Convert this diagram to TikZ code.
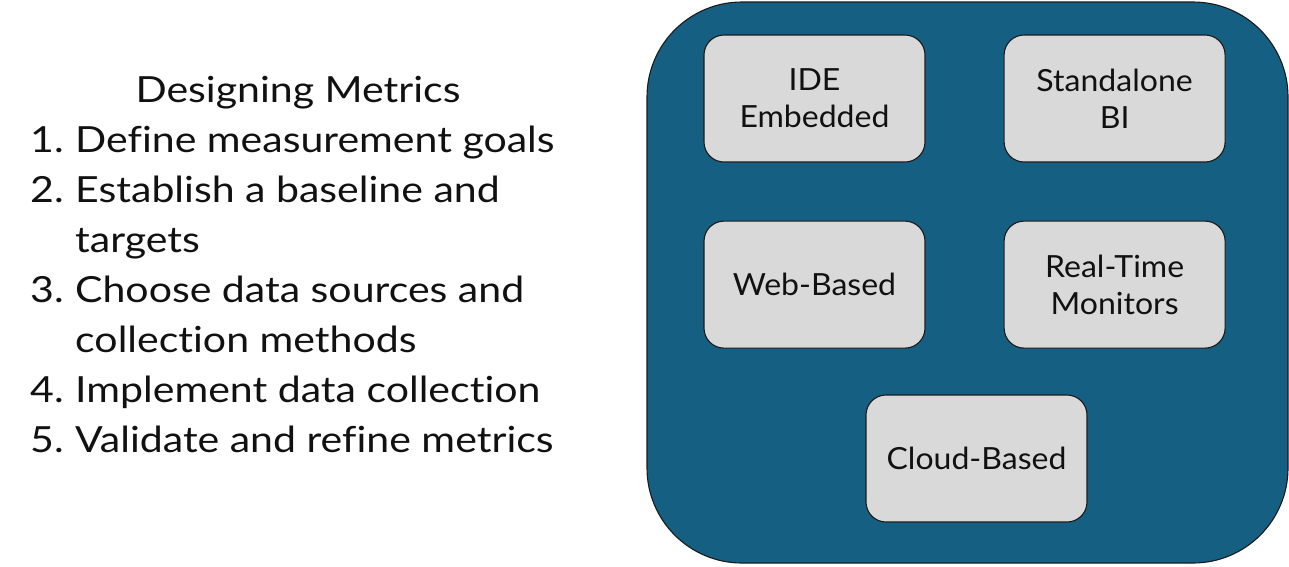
\documentclass[tikz,border=0pt]{standalone}
\usepackage{fontspec}
\setmainfont{Lato}[FakeStretch = 1.14, Ligatures = {NoCommon, NoContextual}]
\newfontfamily\kindfont{Lato}[FakeStretch = 1.05, Ligatures = {NoCommon, NoContextual}]
\usepackage{xcolor}
\usetikzlibrary{positioning}
\definecolor{PanelBlue}{HTML}{156082}
\definecolor{BoxGrey}{HTML}{D9D9D9}
\definecolor{EdgeDark}{HTML}{1A1A1A}
\definecolor{TextDark}{HTML}{111111}

\begin{document}
\begin{tikzpicture}[
        x = 1pt, y = -1pt,
        kindbox/.style = {
            shape          = rectangle,
            rounded corners = 20pt,
            draw           = EdgeDark,
            line width     = 1.1pt,
            fill           = BoxGrey,
            minimum width  = 221pt,
            minimum height = 127pt,
            align          = center,
            text           = TextDark,
            font           = \kindfont\fontsize{30.5}{37}\selectfont,
        },
    ]
    \useasboundingbox (0, 0) rectangle (1289, 566);

    % steps on the left
    \node (title) at (298, 102) [anchor = base, inner sep = 0pt, text = TextDark,
        font = \fontsize{36}{50}\selectfont] {Designing Metrics};
    \node (steps) at (30, 152) [anchor = base west, inner sep = 0pt, text = TextDark,
        font = \fontsize{36}{50}\selectfont] {%
        \begin{tabular}[t]{@{}p{45pt}@{}l@{}}
            1. & Define measurement goals \\
            2. & Establish a baseline and \\
               & targets \\
            3. & Choose data sources and \\
               & collection methods \\
            4. & Implement data collection \\
            5. & Validate and refine metrics
        \end{tabular}};

    % panel with the kinds of tools
    \draw[draw = EdgeDark, line width = 1.1pt, fill = PanelBlue, rounded corners = 95pt]
        (647, 2) rectangle (1288, 563);

    \node (ide) at (814.5, 98.5) [kindbox] {IDE\\Embedded};
    \node (bi) [kindbox, right = 78pt of ide] {Standalone\\BI};
    \node (web) [kindbox, below = 58pt of ide] {Web-Based};
    \node (rt) [kindbox, below = 58pt of bi] {Real-Time\\Monitors};
    \node (cloud) at (976.5, 458.5) [kindbox] {Cloud-Based};
\end{tikzpicture}
\end{document}
